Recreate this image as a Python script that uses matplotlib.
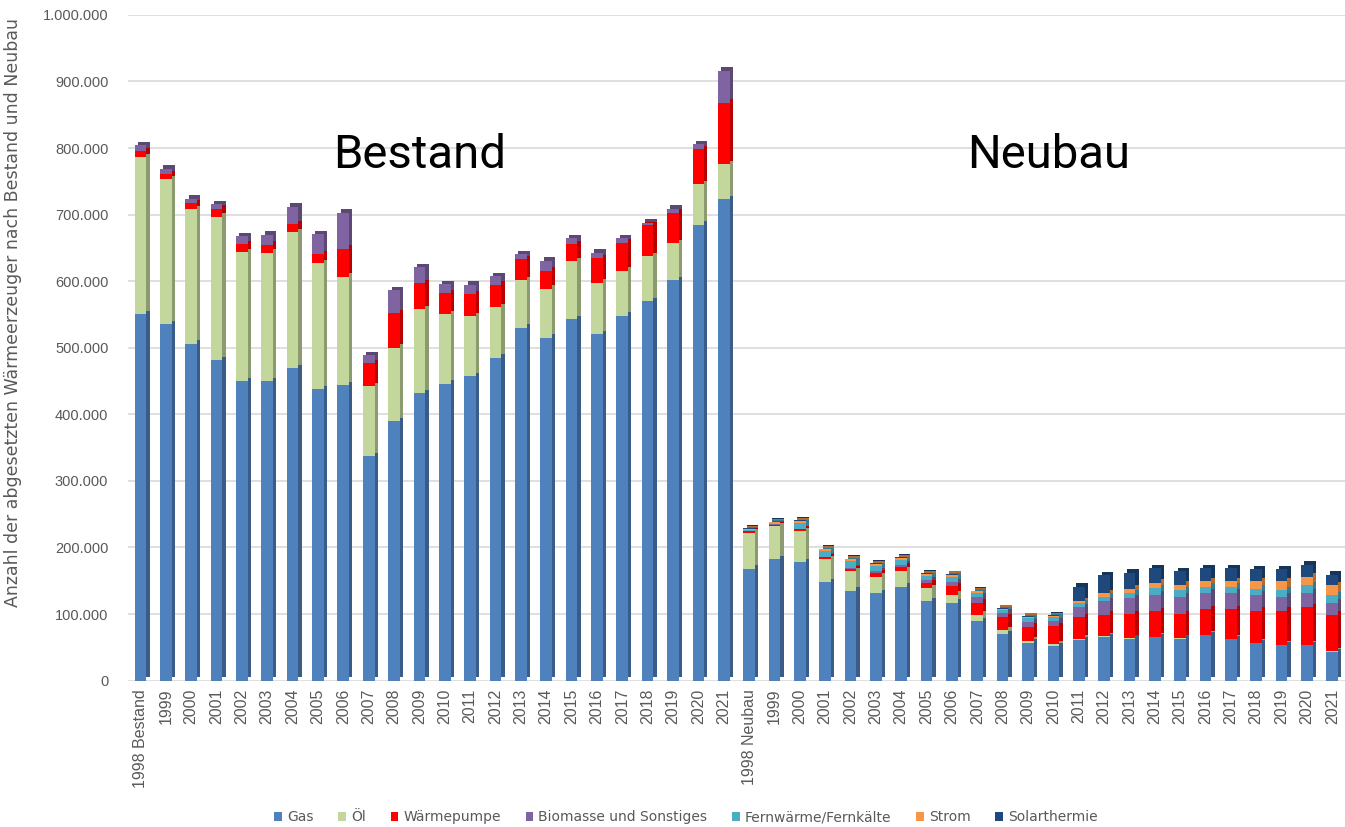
import matplotlib.pyplot as plt
import matplotlib.colors as mcolors
from matplotlib.patches import Patch
from matplotlib.ticker import FuncFormatter, MultipleLocator
import numpy as np

years = [str(y) for y in range(1999, 2022)]
labels = ["1998 Bestand"] + years + ["1998 Neubau"] + years

# Werte in Tausend, erst 24x Bestand, dann 24x Neubau
gas = [550, 535, 506, 481, 450, 450, 469, 438, 444, 337, 390, 432,
       446, 457, 485, 530, 515, 543, 520, 548, 570, 602, 685, 723,
       168, 182, 178, 148, 135, 131, 141, 119, 117, 89, 70, 57,
       52, 61, 65, 63, 65, 63, 68, 62, 56, 53, 53, 43]
oel = [236, 218, 202, 216, 194, 193, 205, 189, 163, 105, 110, 126,
       104, 90, 76, 72, 74, 87, 78, 68, 68, 55, 61, 53,
       54, 50, 47, 34, 29, 25, 24, 20, 12, 10, 6, 3,
       3, 2, 2, 1, 1, 1, 1, 1, 1, 1, 1, 1]
wp = [9, 8, 9, 12, 12, 12, 12, 14, 42, 35, 52, 39,
      32, 33, 34, 31, 27, 26, 37, 42, 46, 46, 52, 92,
      2, 2, 2, 3, 3, 5, 6, 7, 13, 18, 19, 21,
      27, 32, 32, 36, 38, 36, 38, 44, 48, 51, 56, 55]
bio = [9, 8, 7, 7, 12, 15, 26, 30, 54, 12, 35, 24,
       14, 15, 13, 8, 15, 9, 8, 7, 4, 6, 8, 48,
       1, 1, 1, 1, 2, 3, 3, 5, 6, 9, 7, 7,
       7, 15, 20, 24, 25, 26, 25, 25, 24, 21, 22, 18]
fern = [0] * 24 + [1, 1, 9, 8, 10, 8, 7, 6, 8, 6, 4, 6,
                   6, 6, 7, 7, 10, 10, 9, 9, 9, 10, 11, 11]
strom = [0] * 24 + [2, 2, 3, 3, 3, 3, 3, 3, 3, 2, 2, 2,
                    2, 3, 5, 7, 8, 8, 8, 8, 11, 13, 13, 15]
solar = [0] * 24 + [1, 1, 1, 1, 1, 1, 1, 1, 1, 1, 1, 1,
                    1, 22, 27, 24, 22, 20, 20, 20, 18, 18, 18, 16]

series = [("Gas", gas, "#4f81bd"),
          ("Öl", oel, "#c3d69b"),
          ("Wärmepumpe", wp, "#ff0000"),
          ("Biomasse und Sonstiges", bio, "#8064a2"),
          ("Fernwärme/Fernkälte", fern, "#4bacc6"),
          ("Strom", strom, "#f79646"),
          ("Solarthermie", solar, "#1f497d")]


def darker(c, f=0.72):
    r, g, b = mcolors.to_rgb(c)
    return (r * f, g * f, b * f)


fig = plt.figure(figsize=(13.45, 8.27), dpi=100)
ax = fig.add_axes([0.095, 0.177, 0.905, 0.805])

x = np.arange(len(labels))
w = 0.46
dx = 0.13
dy = 5000
bottom = np.zeros(len(labels))
for name, vals, col in series:
    v = np.array(vals) * 1000.0
    # Seitenflaeche fuer den 3D-Look
    ax.bar(x + dx, v, w, bottom=bottom + dy, color=darker(col), zorder=2, linewidth=0)
    ax.bar(x, v, w, bottom=bottom, color=col, zorder=3, linewidth=0)
    bottom += v

ax.set_xlim(-0.5, len(labels) - 0.5)
ax.set_ylim(0, 1000000)
ax.yaxis.set_major_locator(MultipleLocator(100000))
ax.yaxis.set_major_formatter(FuncFormatter(lambda v, p: f"{int(v):,}".replace(",", ".")))
ax.grid(axis="y", color="#d9d9d9", linewidth=1.2, zorder=0)
ax.set_axisbelow(True)
for s in ax.spines.values():
    s.set_visible(False)

ax.set_xticks(x)
ax.set_xticklabels(labels, rotation=90, fontsize=11.5, color="#595959", family="Liberation Sans")
ax.tick_params(axis="x", length=0, pad=6)
ax.tick_params(axis="y", length=0, pad=14, labelsize=10.5, labelcolor="#595959")
for t in ax.get_yticklabels():
    t.set_family("Liberation Sans")

ax.set_ylabel("Anzahl der abgesetzten Wärmeerzeuger nach Bestand und Neubau",
              fontsize=12.5, color="#595959")
ax.yaxis.set_label_coords(-0.087, 0.553)

ax.text(11.0, 790000, "Bestand", fontsize=34, family="Roboto", ha="center", va="center")
ax.text(35.8, 790000, "Neubau", fontsize=34, family="Roboto", ha="center", va="center")

handles = [Patch(facecolor=c, label=n) for n, _, c in series]
fig.legend(handles=handles, loc="lower center", bbox_to_anchor=(0.51, -0.012), ncol=7,
           frameon=False, fontsize=10, handlelength=0.55, handleheight=0.6,
           columnspacing=1.8, handletextpad=0.35, labelcolor="#595959")

fig.savefig("out.png", dpi=100)
